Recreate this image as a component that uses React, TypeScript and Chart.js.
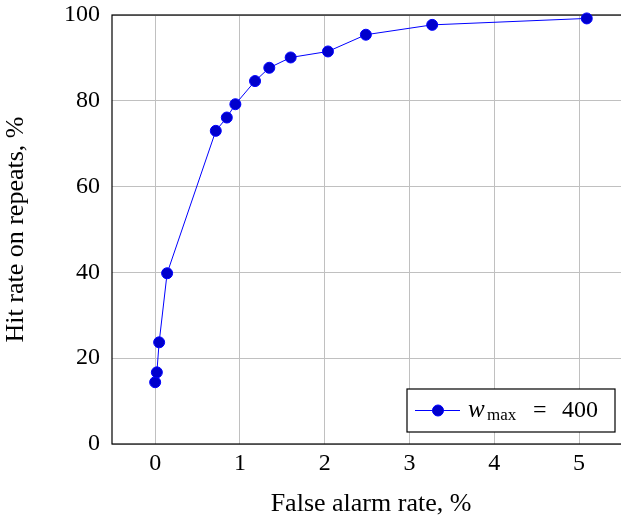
import React, { useEffect, useRef } from 'react';
import { Chart, registerables } from 'chart.js';

Chart.register(...registerables);

// ROC-style curve: false alarm rate vs. hit rate on repeats (both in %)
const falseAlarmRate = [0.0, 0.02, 0.047, 0.141, 0.715, 0.845, 0.946, 1.178, 1.346, 1.598, 2.038, 2.485, 3.267, 5.09];
const hitRate = [14.4, 16.7, 23.7, 39.8, 73.0, 76.1, 79.2, 84.6, 87.7, 90.1, 91.5, 95.4, 97.7, 99.2];

const xTickValues = [0, 1, 2, 3, 4, 5];
const yTickValues = [0, 20, 40, 60, 80, 100];

const xTitle = 'False alarm rate, %';
const yTitle = 'Hit rate on repeats, %';

// legend label pieces: italic variable, subscript, rest
const legendVar = 'w';
const legendSub = 'max';
const legendEq = '=';
const legendValue = '400';

const SERIF = '"Liberation Serif", "Times New Roman", serif';
const LINE_COLOR = '#0000FF';
const MARK_FILL = '#0000CC';

const framePlugin = {
  id: 'frameAndLegend',
  beforeDatasetsDraw(chart: any) {
    const { ctx, chartArea } = chart;
    ctx.save();
    ctx.strokeStyle = '#000000';
    ctx.lineWidth = 1.2;
    ctx.strokeRect(chartArea.left, chartArea.top, chartArea.right - chartArea.left, chartArea.bottom - chartArea.top);
    ctx.restore();
  },
  afterDraw(chart: any) {
    const { ctx, chartArea } = chart;
    const w = 208;
    const h = 43;
    const right = chartArea.right - 15;
    const bottom = chartArea.bottom - 12;
    const left = right - w;
    const top = bottom - h;
    ctx.save();
    ctx.fillStyle = '#ffffff';
    ctx.fillRect(left, top, w, h);
    ctx.strokeStyle = '#000000';
    ctx.lineWidth = 1.2;
    ctx.strokeRect(left, top, w, h);

    const cy = top + 21.5;
    ctx.strokeStyle = LINE_COLOR;
    ctx.lineWidth = 1;
    ctx.beginPath();
    ctx.moveTo(left + 8, cy);
    ctx.lineTo(left + 53, cy);
    ctx.stroke();
    ctx.beginPath();
    ctx.arc(left + 31, cy, 5.5, 0, Math.PI * 2);
    ctx.fillStyle = MARK_FILL;
    ctx.fill();
    ctx.strokeStyle = LINE_COLOR;
    ctx.stroke();

    ctx.fillStyle = '#000000';
    ctx.textBaseline = 'alphabetic';
    ctx.textAlign = 'left';
    const base = top + 27.5;
    ctx.font = `italic 25px ${SERIF}`;
    ctx.fillText(legendVar, left + 61, base);
    ctx.font = `17px ${SERIF}`;
    ctx.fillText(legendSub, left + 80, base + 3.5);
    ctx.font = `24px ${SERIF}`;
    ctx.fillText(legendEq, left + 126, base);
    ctx.fillText(legendValue, left + 155, base);
    ctx.restore();
  },
};

export default function App() {
  const canvasRef = useRef<HTMLCanvasElement | null>(null);

  useEffect(() => {
    if (!canvasRef.current) return;
    const points = falseAlarmRate.map((x, i) => ({ x, y: hitRate[i] }));
    const chart = new Chart(canvasRef.current, {
      type: 'scatter',
      data: {
        datasets: [
          {
            label: 'wmax = 400',
            data: points,
            showLine: true,
            borderColor: LINE_COLOR,
            borderWidth: 1,
            backgroundColor: MARK_FILL,
            pointBackgroundColor: MARK_FILL,
            pointBorderColor: LINE_COLOR,
            pointBorderWidth: 1,
            pointRadius: 5.5,
            pointHoverRadius: 5.5,
            clip: false,
          } as any,
        ],
      },
      options: {
        responsive: false,
        animation: false,
        devicePixelRatio: 1,
        layout: { padding: { top: 15, right: 10, bottom: 0, left: 0 } },
        plugins: {
          legend: { display: false },
          tooltip: { enabled: false },
        },
        scales: {
          x: {
            type: 'linear',
            min: -0.509,
            max: 5.6,
            afterFit: (s: any) => {
              s.height = 76;
              s.paddingLeft = 0;
              s.paddingRight = 0;
            },
            afterBuildTicks: (s: any) => {
              s.ticks = xTickValues.map((v) => ({ value: v }));
            },
            grid: { color: '#C0C0C0', lineWidth: 1, drawTicks: false },
            border: { display: false },
            ticks: {
              padding: 5,
              color: '#000000',
              font: { family: SERIF, size: 24 },
              maxRotation: 0,
              callback: (v: any) => String(v),
            },
            title: {
              display: true,
              text: xTitle,
              color: '#000000',
              font: { family: SERIF, size: 26 },
              padding: { top: 0, bottom: 0 },
            },
          },
          y: {
            type: 'linear',
            min: 0,
            max: 100,
            afterFit: (s: any) => {
              s.width = 112;
              s.paddingTop = 0;
              s.paddingBottom = 0;
            },
            afterBuildTicks: (s: any) => {
              s.ticks = yTickValues.map((v) => ({ value: v }));
            },
            grid: { color: '#C0C0C0', lineWidth: 1, drawTicks: false },
            border: { display: false },
            ticks: {
              padding: 12,
              color: '#000000',
              font: { family: SERIF, size: 24 },
              callback: (v: any) => String(v),
            },
            title: {
              display: true,
              text: yTitle,
              color: '#000000',
              font: { family: SERIF, size: 26 },
              padding: { top: 1, bottom: 0 },
            },
          },
        },
      },
      plugins: [framePlugin],
    });
    return () => chart.destroy();
  }, []);

  return (
    <div
      style={{
        position: 'fixed',
        left: 0,
        top: 0,
        width: 621,
        height: 520,
        overflow: 'hidden',
        background: '#ffffff',
      }}
    >
      <canvas ref={canvasRef} width={640} height={520} style={{ display: 'block' }} />
    </div>
  );
}
